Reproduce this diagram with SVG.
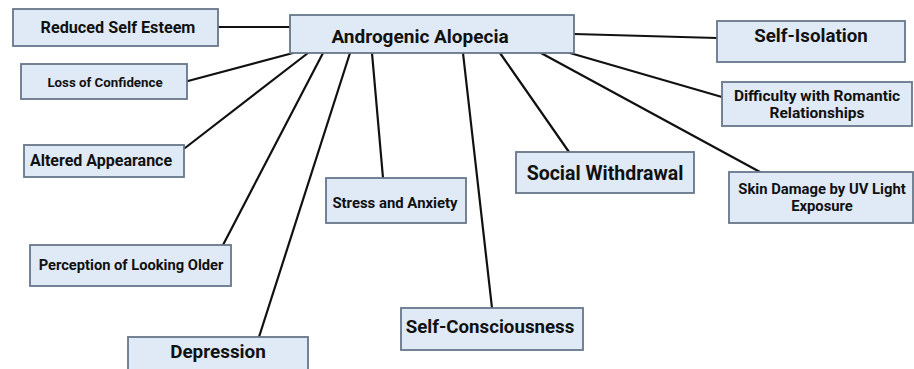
<svg xmlns="http://www.w3.org/2000/svg" width="914" height="369" viewBox="0 0 914 369">
<style>
.box{fill:#dfeaf6;stroke:#66778a;stroke-width:1.8}
.t{font-family:Roboto,"Liberation Sans",sans-serif;font-weight:bold;fill:#111;text-anchor:middle}
.c line{stroke:#111;stroke-width:2.2;stroke-linecap:round}
</style>
<rect width="914" height="369" fill="#fff"/>
<g class="c" id="connectors">
<line x1="218" y1="27" x2="290" y2="27"/>
<line x1="293" y1="53" x2="188" y2="81"/>
<line x1="308" y1="53" x2="185" y2="148"/>
<line x1="323" y1="53" x2="223" y2="245"/>
<line x1="350" y1="53" x2="259" y2="337"/>
<line x1="372" y1="53" x2="383" y2="178"/>
<line x1="463" y1="53" x2="492" y2="308"/>
<line x1="500" y1="53" x2="569" y2="152"/>
<line x1="541" y1="53" x2="760" y2="172"/>
<line x1="570" y1="53" x2="722" y2="97"/>
<line x1="574" y1="34" x2="717" y2="38"/>
</g>
<g id="central"><rect class="box" x="290" y="15" width="284" height="38"/><text class="t" x="420" y="43" font-size="19">Androgenic Alopecia</text></g>
<g id="reduced"><rect class="box" x="13" y="9" width="205" height="37"/><text class="t" x="118" y="33" font-size="16.2">Reduced Self Esteem</text></g>
<g id="loss"><rect class="box" x="21" y="64" width="166" height="35"/><text class="t" x="105" y="87" font-size="13.3">Loss of Confidence</text></g>
<g id="altered"><rect class="box" x="24" y="145" width="160" height="32"/><text class="t" x="101" y="166" font-size="16">Altered Appearance</text></g>
<g id="older"><rect class="box" x="30" y="245" width="201" height="41"/><text class="t" x="131" y="270" font-size="14.7">Perception of Looking Older</text></g>
<g id="depression"><rect class="box" x="128" y="337" width="180" height="34"/><text class="t" x="218" y="358" font-size="18.9">Depression</text></g>
<g id="stress"><rect class="box" x="326" y="178" width="140" height="45"/><text class="t" x="395" y="208" font-size="14.9">Stress and Anxiety</text></g>
<g id="selfconscious"><rect class="box" x="401" y="308" width="182" height="42"/><text class="t" x="490" y="333" font-size="18.7">Self-Consciousness</text></g>
<g id="withdrawal"><rect class="box" x="516" y="152" width="178" height="41"/><text class="t" x="605" y="180" font-size="19.5">Social Withdrawal</text></g>
<g id="skin"><rect class="box" x="729" y="172" width="184" height="51"/><text class="t" x="822" y="194" font-size="14.8">Skin Damage by UV Light</text><text class="t" x="822" y="211" font-size="14.8">Exposure</text></g>
<g id="isolation"><rect class="box" x="717" y="21" width="188" height="41"/><text class="t" x="811" y="42" font-size="18.7">Self-Isolation</text></g>
<g id="romantic"><rect class="box" x="722" y="82" width="190" height="44"/><text class="t" x="817" y="101" font-size="15.5">Difficulty with Romantic</text><text class="t" x="817" y="118" font-size="15.5">Relationships</text></g>
</svg>
